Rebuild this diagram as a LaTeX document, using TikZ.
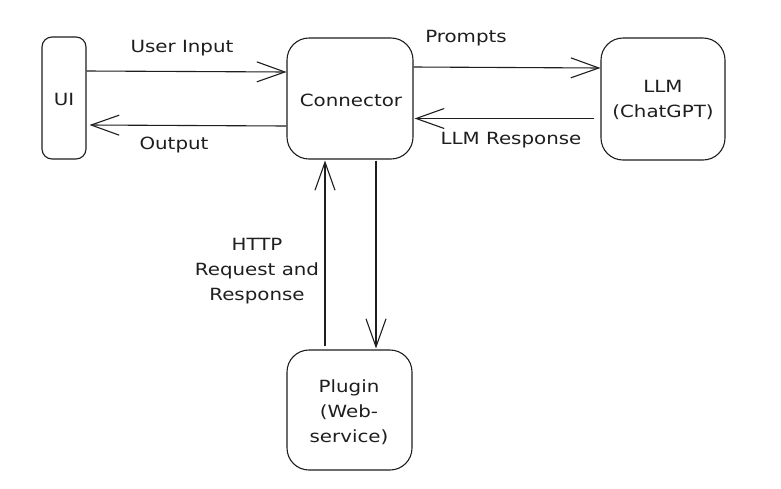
\documentclass[tikz,border=0pt]{standalone}
\usepackage{fontspec}
\setmainfont[FakeStretch=1.18]{DejaVu Sans}
\usetikzlibrary{arrows.meta,calc}
\definecolor{ink}{HTML}{1E1E1E}
\tikzset{
  box/.style={draw=ink, line width=1.1pt, rounded corners=#1, inner sep=0pt},
  lbl/.style={text=ink, font=\fontsize{16.8}{25}\selectfont, align=center, inner sep=0pt},
  flow/.style={draw=ink, line width=1.1pt, -{Straight Barb[length=28pt,width=20pt,line width=1.1pt]}}
}
\begin{document}
\begin{tikzpicture}[x=1pt,y=-1pt]
\useasboundingbox[fill=white] (0,0) rectangle (781,488);
\node[box=10pt, minimum width=44pt, minimum height=122pt] (ui) at (64,98) {};
\node[box=22pt, minimum width=126pt, minimum height=121pt] (conn) at (350,98.5) {};
\node[box=22pt, minimum width=124pt, minimum height=122pt] (llm) at (663,99) {};
\node[box=22pt, minimum width=125pt, minimum height=120pt] (plug) at (349.5,410) {};

\node[lbl] (uil) at (64,99) {UI};
\node[lbl] (connl) at (351,100) {Connector};
\node[lbl] (llml) at (663,100) {LLM\\(ChatGPT)};
\node[lbl] (plugl) at (349,412) {Plugin\\(Web-\\service)};

\draw[flow] ([yshift=27pt]ui.east) -- ([yshift=26.5pt]conn.west);
\draw[flow] ([yshift=-27.5pt]conn.west) -- ([xshift=3pt,yshift=-27pt]ui.east);
\draw[flow] ([yshift=31.5pt]conn.east) -- ([yshift=31pt]llm.west);
\draw[flow] ([xshift=-6pt,yshift=-19.5pt]llm.west) -- ([xshift=1pt,yshift=-20pt]conn.east);
\draw[flow] ([xshift=-24.5pt,yshift=3pt]plug.north) -- ([xshift=-25pt,yshift=-1pt]conn.south);
\draw[flow] ([xshift=26pt,yshift=-1pt]conn.south) -- ([xshift=26.5pt,yshift=1pt]plug.north);

\node[lbl] (inl) at (182,48) {User Input};
\node[lbl] (outl) at (174,145) {Output};
\node[lbl] (prl) at (466,38) {Prompts};
\node[lbl] (rsl) at (511,140) {LLM Response};
\node[lbl] (httpl) at (257,271) {HTTP\\Request and\\Response};
\end{tikzpicture}
\end{document}
